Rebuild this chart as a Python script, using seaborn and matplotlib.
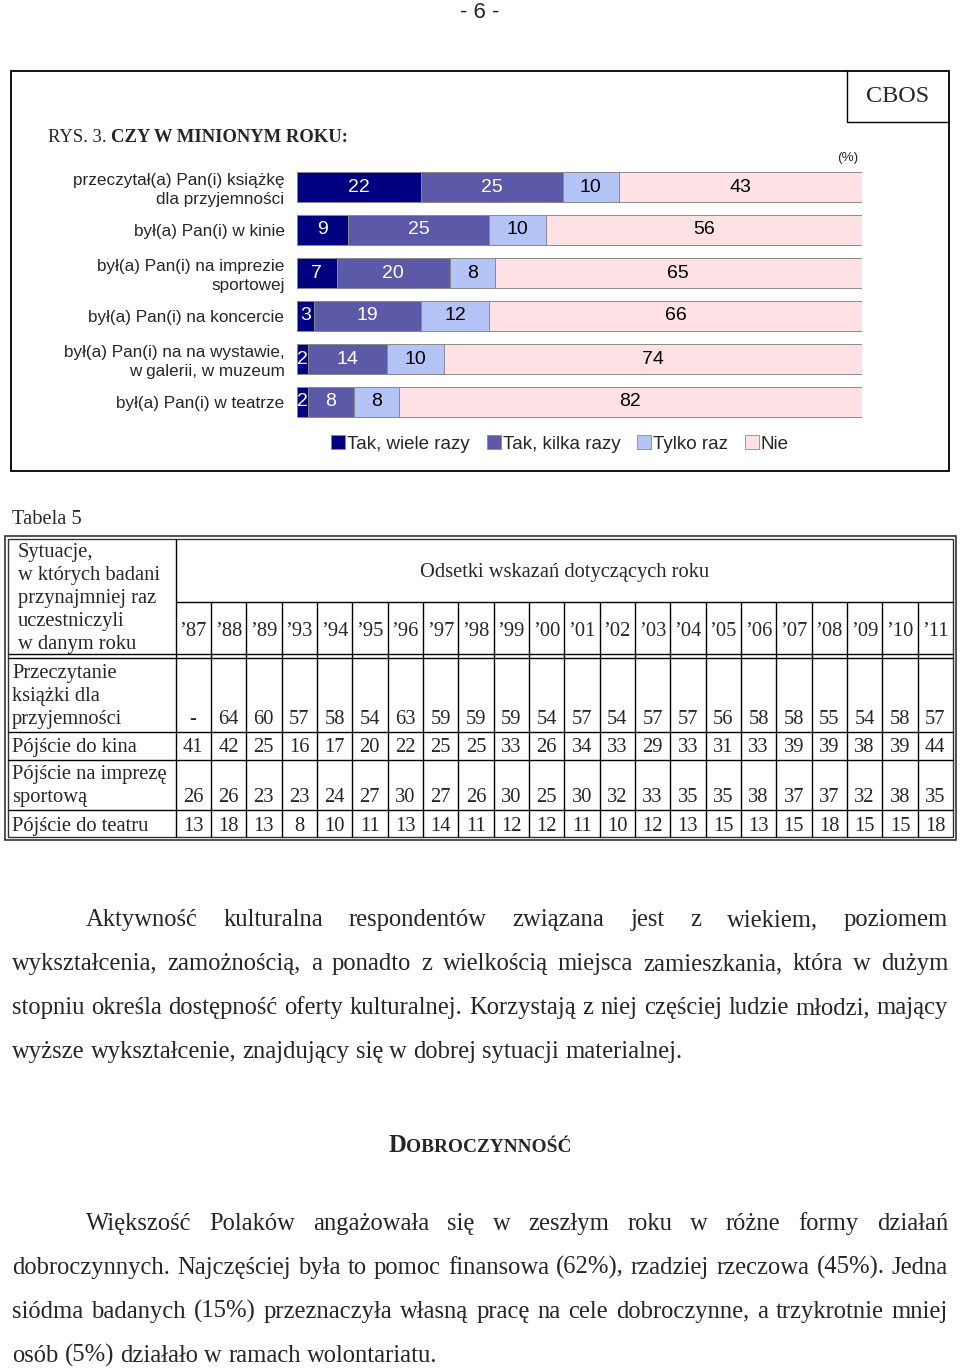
import matplotlib
matplotlib.use("Agg")
import matplotlib.pyplot as plt
from matplotlib.patches import Patch, Rectangle
import seaborn as sns
import pandas as pd

# ---------------- data ----------------
categories = ["przeczytał(a) Pan(i) książkę\ndla przyjemności",
              "był(a) Pan(i) w kinie",
              "był(a) Pan(i) na imprezie\nsportowej",
              "był(a) Pan(i) na koncercie",
              "był(a) Pan(i) na na wystawie,\nw galerii, w muzeum",
              "był(a) Pan(i) w teatrze"]
series_names = ["Tak, wiele razy", "Tak, kilka razy", "Tylko raz", "Nie"]
wiele = [22, 9, 7, 3, 2, 2]
kilka = [25, 25, 20, 19, 14, 8]
raz = [10, 10, 8, 12, 10, 8]
nie = [43, 56, 65, 66, 74, 82]

years = ["’87", "’88", "’89", "’93", "’94", "’95", "’96", "’97", "’98", "’99", "’00",
         "’01", "’02", "’03", "’04", "’05", "’06", "’07", "’08", "’09", "’10", "’11"]
row_labels = [["Przeczytanie", "książki dla", "przyjemności"],
              ["Pójście do kina"],
              ["Pójście na imprezę", "sportową"],
              ["Pójście do teatru"]]
ksiazka = ["-", 64, 60, 57, 58, 54, 63, 59, 59, 59, 54, 57, 54, 57, 57, 56, 58, 58, 55, 54, 58, 57]
kino = [41, 42, 25, 16, 17, 20, 22, 25, 25, 33, 26, 34, 33, 29, 33, 31, 33, 39, 39, 38, 39, 44]
sport = [26, 26, 23, 23, 24, 27, 30, 27, 26, 30, 25, 30, 32, 33, 35, 35, 38, 37, 37, 32, 38, 35]
teatr = [13, 18, 13, 8, 10, 11, 13, 14, 11, 12, 12, 11, 10, 12, 13, 15, 13, 15, 18, 15, 15, 18]

para1 = ["Aktywność kulturalna respondentów związana jest z wiekiem, poziomem",
         "wykształcenia, zamożnością, a ponadto z wielkością miejsca zamieszkania, która w dużym",
         "stopniu określa dostępność oferty kulturalnej. Korzystają z niej częściej ludzie młodzi, mający",
         "wyższe wykształcenie, znajdujący się w dobrej sytuacji materialnej."]
para2 = ["Większość Polaków angażowała się w zeszłym roku w różne formy działań",
         "dobroczynnych. Najczęściej była to pomoc finansowa (62%), rzadziej rzeczowa (45%). Jedna",
         "siódma badanych (15%) przeznaczyła własną pracę na cele dobroczynne, a trzykrotnie mniej",
         "osób (5%) działało w ramach wolontariatu."]

# ---------------- style ----------------
sns.set_style("white")
plt.rcParams['font.family'] = ['Liberation Sans', 'DejaVu Sans']
SERIF = ['Liberation Serif', 'DejaVu Serif']
SANS = ['Liberation Sans', 'DejaVu Sans']
colors = ["#000080", "#5C5AA8", "#B4C4F6", "#FDE1E4"]
edge = "#8a8a8a"

W, H = 960, 1369
fig = plt.figure(figsize=(W / 100, H / 100), dpi=100)
fig.patch.set_facecolor("white")

ov = fig.add_axes([0, 0, 1, 1])
ov.set_xlim(0, W)
ov.set_ylim(H, 0)
ov.axis("off")
r = fig.canvas.get_renderer()

# page number
ov.text(480, 12, "- 6 -", fontsize=16, family=SANS, ha="center", va="center")

# chart frame
ov.add_patch(Rectangle((11, 71), 938, 400, fill=False, lw=1.3, ec="black"))
ov.plot([847, 847, 949], [71, 122, 122], color="black", lw=1.0)
ov.text(898, 97, "CBOS", fontsize=17.4, family=SERIF, ha="center", va="center")

t1 = ov.text(48, 142, "RYS. 3. ", fontsize=13.4, family=SERIF, ha="left", va="baseline", color="#222222")
w1 = t1.get_window_extent(renderer=r).width
ov.text(48 + w1, 142, "CZY W MINIONYM ROKU:", fontsize=13.4, family=SERIF,
        weight="bold", ha="left", va="baseline")
ov.text(848, 158, "(%)", fontsize=9.7, family=SANS, ha="center", va="center")

# ---------------- bar chart ----------------
df = pd.DataFrame({"cat": categories, "wiele": wiele, "kilka": kilka, "raz": raz, "nie": nie})
df["c1"] = df["wiele"]
df["c2"] = df["c1"] + df["kilka"]
df["c3"] = df["c2"] + df["raz"]
df["c4"] = df["c3"] + df["nie"]

top, bottom = 165.5, 423.5
ax = fig.add_axes([297 / W, 1 - bottom / H, 565 / W, (bottom - top) / H])
for col, c in zip(["c4", "c3", "c2", "c1"], colors[::-1]):
    sns.barplot(data=df, x=col, y="cat", order=categories, color=c, orient="h",
                width=0.70, edgecolor=edge, linewidth=0.7, errorbar=None, ax=ax,
                saturation=1)
ax.set_xlim(0, 100)
ax.set_ylim(5.5, -0.5)
ax.set_xlabel("")
ax.set_ylabel("")
ax.set_xticks([])
for s in ax.spines.values():
    s.set_visible(False)
ax.tick_params(axis="y", length=0, pad=9, labelsize=12.3)
for lbl in ax.get_yticklabels():
    lbl.set_family(SANS)
    lbl.set_multialignment("right")
    lbl.set_linespacing(1.3)
ax.patch.set_alpha(0)

vals = [wiele, kilka, raz, nie]
txtcol = ["white", "white", "black", "black"]
for i in range(len(categories)):
    left = 0
    for k in range(4):
        v = vals[k][i]
        ax.text(left + v / 2, i, str(v), ha="center", va="center", fontsize=14,
                color=txtcol[k], family=SANS)
        left += v

handles = [Patch(facecolor=c, edgecolor=edge, lw=0.6) for c in colors]
fig.legend(handles, series_names, loc="center", bbox_to_anchor=(560 / W, 1 - 444 / H),
           ncol=4, frameon=False, handlelength=0.75, handleheight=0.75,
           handletextpad=0.1, columnspacing=0.9, prop={"family": SANS, "size": 13.5})

# ---------------- table ----------------
TF = 14.8
ov.text(12, 524, "Tabela 5", fontsize=TF, family=SERIF, ha="left", va="baseline")
ov.add_patch(Rectangle((5, 536), 951, 304, fill=False, lw=1.2, ec="#333333"))
ov.add_patch(Rectangle((8, 539), 945, 298, fill=False, lw=1.0, ec="#333333"))
xL, xR = 175.5, 953
cw = (xR - xL) / len(years)
ov.plot([xL, xL], [539, 837], color="black", lw=1.0)
ov.plot([xL, xR], [602, 602], color="black", lw=1.0)
ov.plot([8, xR], [654, 654], color="black", lw=1.0)
ov.plot([8, xR], [657.5, 657.5], color="black", lw=1.0)
for yy in [732, 760, 810]:
    ov.plot([8, xR], [yy, yy], color="black", lw=1.0)
for k in range(1, len(years)):
    xx = xL + k * cw
    ov.plot([xx, xx], [602, 837], color="black", lw=1.0)

for j, line in enumerate(["Sytuacje,", "w których badani", "przynajmniej raz",
                          "uczestniczyli", "w danym roku"]):
    ov.text(18, 557 + 23 * j, line, fontsize=TF, family=SERIF, ha="left", va="baseline")
ov.text((xL + xR) / 2, 577, "Odsetki wskazań dotyczących roku", fontsize=TF,
        family=SERIF, ha="center", va="baseline")
for k, yl in enumerate(years):
    ov.text(xL + (k + 0.5) * cw, 636, yl, fontsize=TF, family=SERIF, ha="center", va="baseline")

row_base = [724, 752, 802, 831]
data_rows = [ksiazka, kino, sport, teatr]
for ri, (labels, vals_r) in enumerate(zip(row_labels, data_rows)):
    nl = len(labels)
    for j, line in enumerate(labels):
        ov.text(12, row_base[ri] - 23 * (nl - 1 - j), line, fontsize=TF, family=SERIF,
                ha="left", va="baseline")
    for k, v in enumerate(vals_r):
        ov.text(xL + (k + 0.5) * cw, row_base[ri], str(v), fontsize=TF, family=SERIF,
                ha="center", va="baseline")

# ---------------- body text ----------------
BF = 17.7


def justify(lines, y0, indent_x, x0=12, x1=948, dy=44):
    for li, line in enumerate(lines):
        words = line.split(" ")
        start = indent_x if li == 0 else x0
        y = y0 + li * dy
        ts = [ov.text(0, y, w, fontsize=BF, family=SERIF, ha="left", va="baseline") for w in words]
        ws = [t.get_window_extent(renderer=r).width for t in ts]
        if li == len(lines) - 1:
            gap = 0.25 * BF * 100 / 72
        else:
            gap = (x1 - start - sum(ws)) / (len(words) - 1)
        x = start
        for t, w in zip(ts, ws):
            t.set_x(x)
            x += w + gap


justify(para1, 926, 86)
justify(para2, 1230, 86)

# heading in small caps
hD = ov.text(0, 1152, "D", fontsize=BF, family=SERIF, weight="bold", ha="left", va="baseline")
hR = ov.text(0, 1152, "OBROCZYNNOŚĆ", fontsize=13.9, family=SERIF, weight="bold",
             ha="left", va="baseline")
wD = hD.get_window_extent(renderer=r).width
wR = hR.get_window_extent(renderer=r).width
hx = 480 - (wD + wR) / 2
hD.set_x(hx)
hR.set_x(hx + wD)

fig.savefig("out.png", dpi=100, facecolor="white")
